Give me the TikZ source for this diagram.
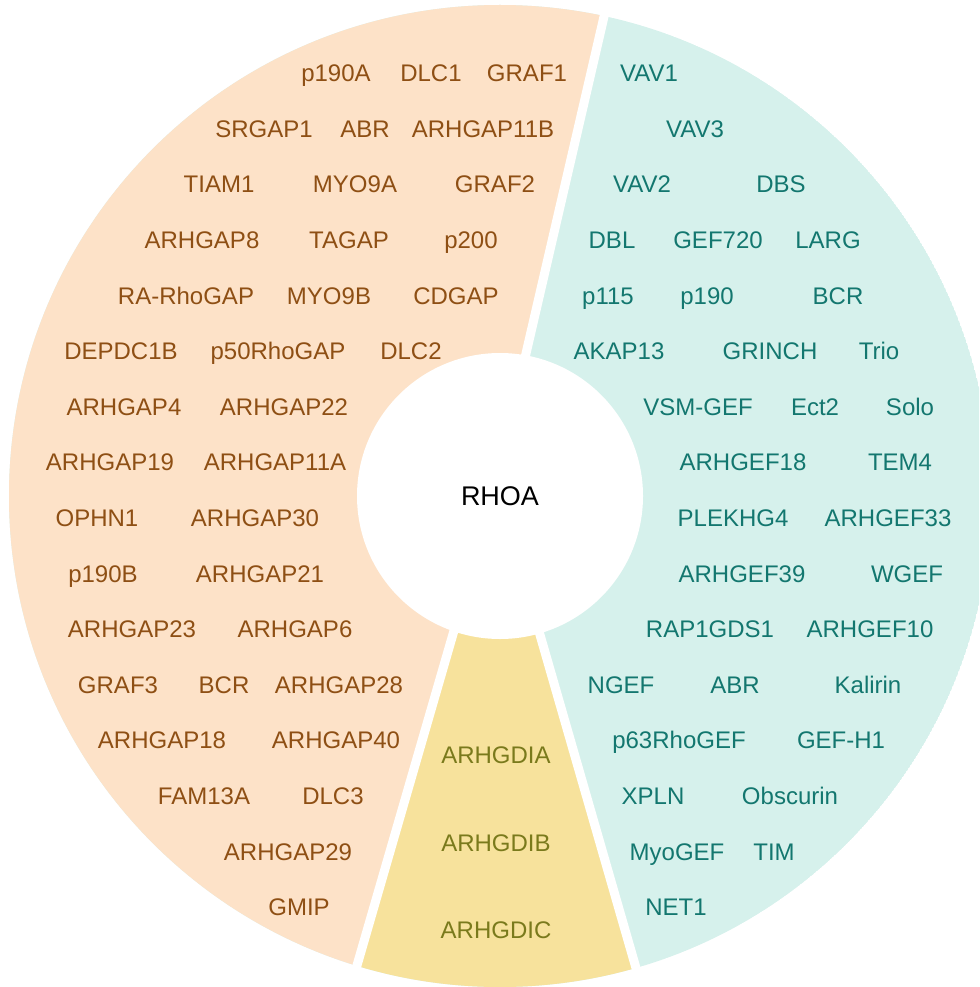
\documentclass[tikz,border=0pt]{standalone}
\usepackage{fontspec}
\setmainfont{Liberation Sans}
\definecolor{orfill}{HTML}{FDE2C8}
\definecolor{tefill}{HTML}{D6F1EC}
\definecolor{yefill}{HTML}{F7E29C}
\definecolor{ortext}{HTML}{8E4F14}
\definecolor{tetext}{HTML}{13776F}
\definecolor{yetext}{HTML}{7A7A1C}
\tikzset{
  lbl/.style={anchor=base, inner sep=0pt, font=\fontsize{24}{28}\selectfont},
  gapl/.style={lbl, text=ortext},
  gefl/.style={lbl, text=tetext},
  gdil/.style={lbl, text=yetext},
  sep/.style={white, line width=9pt}
}
\begin{document}
\begin{tikzpicture}[x=1pt,y=-1pt]
\useasboundingbox (0,0) rectangle (979,987);
\clip (0,0) rectangle (979,987);
\fill[white] (0,0) rectangle (979,987);
% sectors
\coordinate (ctr) at (500,496);
\coordinate (mAB) at (493,496);
\coordinate (Atop) at (631,-100);
\coordinate (Bbot) at (318,1100);
\coordinate (Cbot) at (674,1100);
\begin{scope}
  \clip (ctr) circle[radius=491];
  \fill[tefill] (ctr) circle[radius=491];
  \fill[orfill] (Atop) -- (mAB) -- (Bbot) -- (-100,1100) -- (-100,-100) -- cycle;
  \fill[yefill] (mAB) -- (Bbot) -- (Cbot) -- (ctr) -- cycle;
\end{scope}
\draw[sep] (mAB) -- (Atop);
\draw[sep] (mAB) -- (Bbot);
\draw[sep] (ctr) -- (Cbot);
\fill[white] (ctr) circle[radius=143];
\node[lbl, font=\fontsize{27}{30}\selectfont, text=black] (rhoa) at (500,505.7) {RHOA};
% GAPs (orange)
\node[gapl] (g1) at (336,81.6) {p190A};
\node[gapl] (g2) at (431,81.6) {DLC1};
\node[gapl] (g3) at (527,81.6) {GRAF1};
\node[gapl] (g4) at (264,137.2) {SRGAP1};
\node[gapl] (g5) at (365,137.2) {ABR};
\node[gapl] (g6) at (483,137.2) {ARHGAP11B};
\node[gapl] (g7) at (219,192.8) {TIAM1};
\node[gapl] (g8) at (355,192.8) {MYO9A};
\node[gapl] (g9) at (495,192.8) {GRAF2};
\node[gapl] (g10) at (202,248.4) {ARHGAP8};
\node[gapl] (g11) at (349,248.4) {TAGAP};
\node[gapl] (g12) at (471,248.4) {p200};
\node[gapl] (g13) at (186,304.0) {RA-RhoGAP};
\node[gapl] (g14) at (329,304.0) {MYO9B};
\node[gapl] (g15) at (456,304.0) {CDGAP};
\node[gapl] (g16) at (121,359.6) {DEPDC1B};
\node[gapl] (g17) at (278,359.6) {p50RhoGAP};
\node[gapl] (g18) at (411,359.6) {DLC2};
\node[gapl] (g19) at (124,415.2) {ARHGAP4};
\node[gapl] (g20) at (284,415.2) {ARHGAP22};
\node[gapl] (g21) at (110,470.8) {ARHGAP19};
\node[gapl] (g22) at (275,470.8) {ARHGAP11A};
\node[gapl] (g23) at (97,526.4) {OPHN1};
\node[gapl] (g24) at (255,526.4) {ARHGAP30};
\node[gapl] (g25) at (103,582.0) {p190B};
\node[gapl] (g26) at (260,582.0) {ARHGAP21};
\node[gapl] (g27) at (132,637.6) {ARHGAP23};
\node[gapl] (g28) at (295,637.6) {ARHGAP6};
\node[gapl] (g29) at (118,693.2) {GRAF3};
\node[gapl] (g30) at (224,693.2) {BCR};
\node[gapl] (g31) at (339,693.2) {ARHGAP28};
\node[gapl] (g32) at (162,748.8) {ARHGAP18};
\node[gapl] (g33) at (336,748.8) {ARHGAP40};
\node[gapl] (g34) at (204,804.4) {FAM13A};
\node[gapl] (g35) at (333,804.4) {DLC3};
\node[gapl] (g36) at (288,860.0) {ARHGAP29};
\node[gapl] (g37) at (299,915.6) {GMIP};
% GEFs (teal)
\node[gefl] (f1) at (649,81.6) {VAV1};
\node[gefl] (f2) at (695,137.2) {VAV3};
\node[gefl] (f3) at (642,192.8) {VAV2};
\node[gefl] (f4) at (781,192.8) {DBS};
\node[gefl] (f5) at (612,248.4) {DBL};
\node[gefl] (f6) at (718,248.4) {GEF720};
\node[gefl] (f7) at (828,248.4) {LARG};
\node[gefl] (f8) at (608,304.0) {p115};
\node[gefl] (f9) at (707,304.0) {p190};
\node[gefl] (f10) at (838,304.0) {BCR};
\node[gefl] (f11) at (619,359.6) {AKAP13};
\node[gefl] (f12) at (770,359.6) {GRINCH};
\node[gefl] (f13) at (879,359.6) {Trio};
\node[gefl] (f14) at (698,415.2) {VSM-GEF};
\node[gefl] (f15) at (815,415.2) {Ect2};
\node[gefl] (f16) at (910,415.2) {Solo};
\node[gefl] (f17) at (743,470.8) {ARHGEF18};
\node[gefl] (f18) at (900,470.8) {TEM4};
\node[gefl] (f19) at (733,526.4) {PLEKHG4};
\node[gefl] (f20) at (888,526.4) {ARHGEF33};
\node[gefl] (f21) at (742,582.0) {ARHGEF39};
\node[gefl] (f22) at (907,582.0) {WGEF};
\node[gefl] (f23) at (710,637.6) {RAP1GDS1};
\node[gefl] (f24) at (870,637.6) {ARHGEF10};
\node[gefl] (f25) at (621,693.2) {NGEF};
\node[gefl] (f26) at (735,693.2) {ABR};
\node[gefl] (f27) at (868,693.2) {Kalirin};
\node[gefl] (f28) at (679,748.8) {p63RhoGEF};
\node[gefl] (f29) at (841,748.8) {GEF-H1};
\node[gefl] (f30) at (653,804.4) {XPLN};
\node[gefl] (f31) at (790,804.4) {Obscurin};
\node[gefl] (f32) at (677,860.0) {MyoGEF};
\node[gefl] (f33) at (774,860.0) {TIM};
\node[gefl] (f34) at (676,915.6) {NET1};
% GDIs (yellow)
\node[gdil] (d1) at (496,763.6) {ARHGDIA};
\node[gdil] (d2) at (496,851.6) {ARHGDIB};
\node[gdil] (d3) at (496,938.6) {ARHGDIC};
\end{tikzpicture}
\end{document}
